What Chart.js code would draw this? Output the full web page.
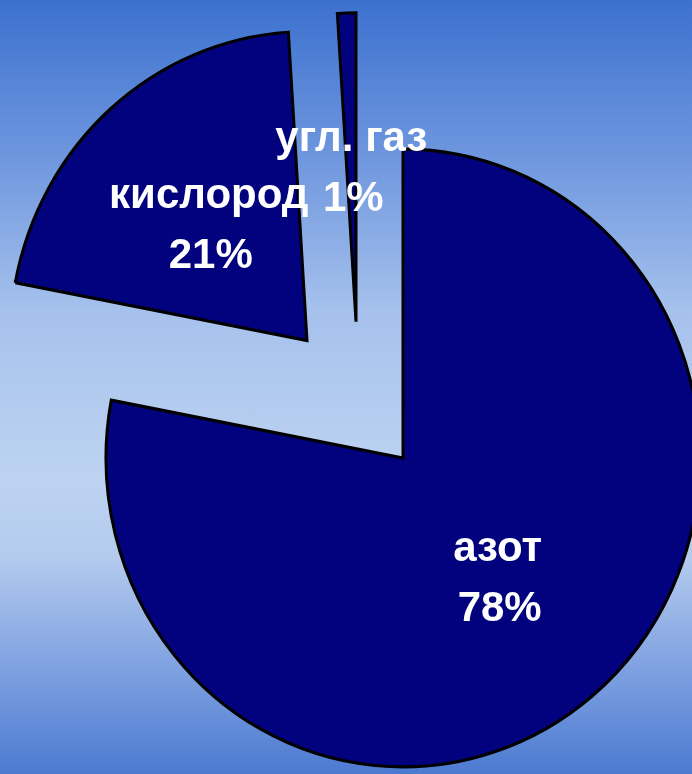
<!DOCTYPE html>
<html>
<head>
<meta charset="utf-8">
<script src="https://cdn.jsdelivr.net/npm/chart.js@4/dist/chart.umd.min.js"></script>
<style>
    html, body { margin: 0; padding: 0; }
    #wrap {
        width: 692px;
        height: 774px;
        background: linear-gradient(to bottom,
            rgb(60,113,207) 0%,
            rgb(110,150,222) 20%,
            rgb(165,193,236) 40%,
            rgb(190,211,241) 62%,
            rgb(180,203,238) 72%,
            rgb(128,162,225) 86%,
            rgb(76,122,209) 100%);
    }
</style>
</head>
<body>
<div id="wrap">
    <canvas id="airChart" width="692" height="774"></canvas>
</div>
<script>
const gases = ["азот", "кислород", "угл. газ"];
const shares = [78, 21, 1];

// how far each slice is pulled out of the pie (px)
const pullX = [0, -96, -47];
const pullY = [0, -113, -131];
const stretchY = 1.04;

const explodePlugin = {
    id: "explode",
    afterDatasetsUpdate(chart) {
        const arcs = chart.getDatasetMeta(0).data;
        arcs.forEach((arc, i) => {
            arc.x += pullX[i];
            arc.y += pullY[i];
        });
    },
    beforeDatasetsDraw(chart) {
        const ctx = chart.ctx;
        const cy = (chart.chartArea.top + chart.chartArea.bottom) / 2;
        ctx.save();
        ctx.translate(0, cy);
        ctx.scale(1, stretchY);
        ctx.translate(0, -cy);
    },
    afterDatasetsDraw(chart) {
        chart.ctx.restore();

        // labels
        const ctx = chart.ctx;
        const cy = (chart.chartArea.top + chart.chartArea.bottom) / 2;
        const arcs = chart.getDatasetMeta(0).data;
        ctx.save();
        ctx.fillStyle = "#ffffff";
        ctx.font = "bold 42px 'Liberation Sans', Arial, sans-serif";
        ctx.textAlign = "center";
        ctx.textBaseline = "middle";
        arcs.forEach((arc, i) => {
            const p = arc.getCenterPoint();
            const y = cy + (p.y - cy) * stretchY;
            ctx.fillText(gases[i], p.x, y - 28);
            ctx.fillText(shares[i] + "%", p.x + 2, y + 32);
        });
        ctx.restore();
    }
};

new Chart(document.getElementById("airChart"), {
    type: "pie",
    data: {
        labels: gases,
        datasets: [{
            data: shares,
            backgroundColor: "#02027f",
            borderColor: "#000000",
            borderWidth: 3,
            borderJoinStyle: "miter",
            clip: false
        }]
    },
    options: {
        responsive: false,
        animation: false,
        radius: 297,
        layout: {
            padding: { left: 114, right: 0, top: 142, bottom: 0 }
        },
        plugins: {
            legend: { display: false },
            tooltip: { enabled: false }
        },
        events: []
    },
    plugins: [explodePlugin]
});
</script>
</body>
</html>
